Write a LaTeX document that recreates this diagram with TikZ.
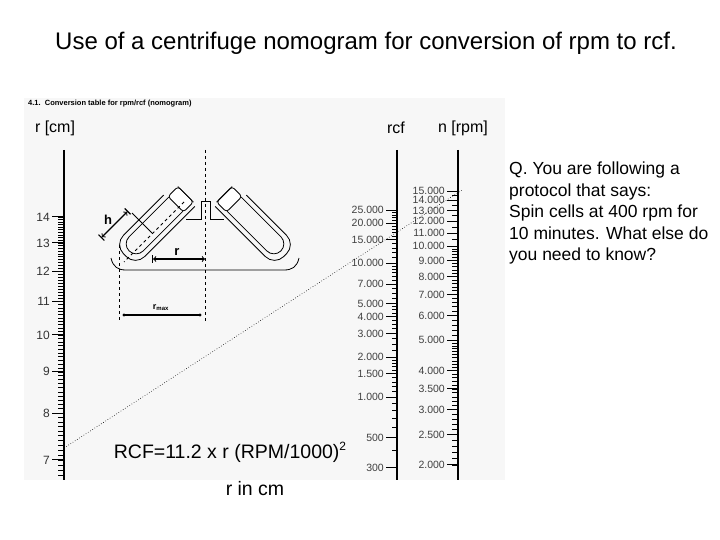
\documentclass[tikz,border=0pt]{standalone}
\usepackage{fontspec}
\setmainfont{Liberation Sans}
\begin{document}
\begin{tikzpicture}[x=1pt,y=-1pt,
  lbl/.style={font=\fontsize{10.5}{11}\selectfont, text=black!75, anchor=east, inner sep=0},
  ax/.style={line width=2pt},
  tube/.style={line width=0.8pt},
  dim/.style={line width=1.1pt}]
\useasboundingbox (0,0) rectangle (720,540);
\fill[black!3] (24,98) rectangle (505,480);
\node (title) at (366,43) {\fontsize{24}{28}\selectfont Use of a centrifuge nomogram for conversion of rpm to rcf.};
\node[anchor=west, inner sep=0] (hdr) at (28,104) {\fontsize{7.5}{8}\selectfont\bfseries 4.1.\ \ Conversion table for rpm/rcf (nomogram)};
\node (rcm) at (55,128) {\fontsize{16}{18}\selectfont r [cm]};
\node (rcf) at (396,128) {\fontsize{16}{18}\selectfont rcf};
\node (rpm) at (463,128) {\fontsize{16}{18}\selectfont n [rpm]};
% axes
\coordinate (rt) at (64,150); \coordinate (rb) at (64,480);
\coordinate (ct) at (397,150); \coordinate (cb) at (397,480);
\coordinate (nt) at (458,150); \coordinate (nb) at (458,480);
\draw[ax] (rt) -- (rb);
\draw[ax] (ct) -- (cb);
\draw[ax] (nt) -- (nb);
% r scale
\foreach \v in {67,...,140}{\pgfmathsetmacro\yy{217+807*log10(140/\v)}
  \draw[line width=0.6pt] (58,\yy) -- (64,\yy);}
\foreach \v in {7,...,14}{\pgfmathsetmacro\yy{217+807*log10(14/\v)}
  \draw[line width=1pt] (52,\yy) -- (64,\yy);
  \node[anchor=east,inner sep=0,font=\fontsize{12}{13}\selectfont, text=black!80] at (50,\yy) {\v};}
% rcf scale (values in hundreds)
\foreach \v in {3,4,...,20,22.5,25,...,50,55,60,...,100,110,120,...,250}{\pgfmathsetmacro\yy{210+134*log10(250/\v)}
  \draw[line width=0.6pt] (392,\yy) -- (397,\yy);}
\foreach \v/\t in {250/25.000,200/20.000,150/15.000,100/10.000,70/7.000,50/5.000,40/4.000,30/3.000,20/2.000,15/1.500,10/1.000,5/500,3/300}{\pgfmathsetmacro\yy{210+134*log10(250/\v)}
  \draw[line width=0.9pt] (386,\yy) -- (397,\yy);
  \node[lbl] at (384,\yy) {\t};}
% rpm scale (values in hundreds)
\foreach \v in {20,21,...,50,52,54,...,100,105,110,...,150}{\pgfmathsetmacro\yy{191+313*log10(150/\v)}
  \draw[line width=0.6pt] (452,\yy) -- (458,\yy);}
\foreach \v/\t in {150/15.000,140/14.000,130/13.000,120/12.000,110/11.000,100/10.000,90/9.000,80/8.000,70/7.000,60/6.000,50/5.000,40/4.000,35/3.500,30/3.000,25/2.500,20/2.000}{\pgfmathsetmacro\yy{191+313*log10(150/\v)}
  \draw[line width=0.9pt] (447,\yy) -- (458,\yy);
  \node[lbl] at (445,\yy) {\t};}
% dotted line
\coordinate (d1) at (64,448); \coordinate (d2) at (462,190);
\draw[dotted, line width=0.6pt] (d1) -- (d2);
% plate
\draw[tube] (111,258) .. controls (113,267) and (118,270) .. (126,270) -- (284,270) .. controls (292,270) and (297,267) .. (299,258);
\draw[tube] (186,219) -- (201,219) -- (201,201) -- (210,201) -- (210,219) -- (224,219);
% tubes
\foreach \xs/\xo in {1/0,-1/410}{
\begin{scope}[xshift=\xo, xscale=\xs]
\begin{scope}[shift={(230,200)}, rotate=-45]
 \draw[tube, rounded corners=10] (6,-10) -- (72,-10) -- (72,10) -- (6,10);
 \draw[tube, rounded corners=13] (8,-15) -- (78,-15) -- (78,15) -- (-6,15);
 \draw[tube, rounded corners=3, fill=white] (-8,-11) rectangle (6,11);
 \draw[tube] (-8,-11) -- (-8,11);
\end{scope}
\end{scope}}
% left tube extras
\coordinate (dl1) at (184,202); \coordinate (dl2) at (124,262);
\draw[dashed, tube] (dl1) -- (dl2);
\coordinate (p1) at (132,213); \coordinate (p2) at (152,233);
\draw[tube] (p1) -- (p2);
\coordinate (h1) at (101,238); \coordinate (h2) at (128,211);
\draw[dim, |<->|] (h1) -- (h2);
\node (h) at (108,220) {\fontsize{13}{14}\selectfont\bfseries h};
% dashed verticals
\coordinate (c1) at (205,150); \coordinate (c2) at (205,322);
\coordinate (l1) at (119,245); \coordinate (l2) at (119,322);
\draw[dashed, line width=0.8pt] (c1) -- (c2);
\draw[dashed, line width=0.8pt] (l1) -- (l2);
\coordinate (ra) at (152,259); \coordinate (rb2) at (205,259);
\draw[dim, |<->] (ra) -- (rb2);
\node (r) at (177,252) {\fontsize{13}{14}\selectfont\bfseries r};
\coordinate (m1) at (124,315); \coordinate (m2) at (200,315);
\draw[dim] (m1) -- (m2);
\fill (m1) circle (1.6); \fill (m2) circle (1.6);
\node (rmax) at (161,308) {\fontsize{9}{10}\selectfont\bfseries r\textsubscript{max}};
% texts
\node[anchor=north west, align=left, inner sep=0, font=\fontsize{17.5}{21.5}\selectfont] (q) at (509,162) {Q. You are following a\\ protocol that says:\\ Spin cells at 400 rpm for\\ 10 minutes. What else do\\ you need to know?};
\node (rcfeq) at (230,452) {\fontsize{19.5}{22}\selectfont RCF=11.2 x r (RPM/1000)\raisebox{0.75ex}{\fontsize{12}{13}\selectfont 2}};
\node (rincm) at (255,489) {\fontsize{19.5}{22}\selectfont r in cm};
\end{tikzpicture}
\end{document}
